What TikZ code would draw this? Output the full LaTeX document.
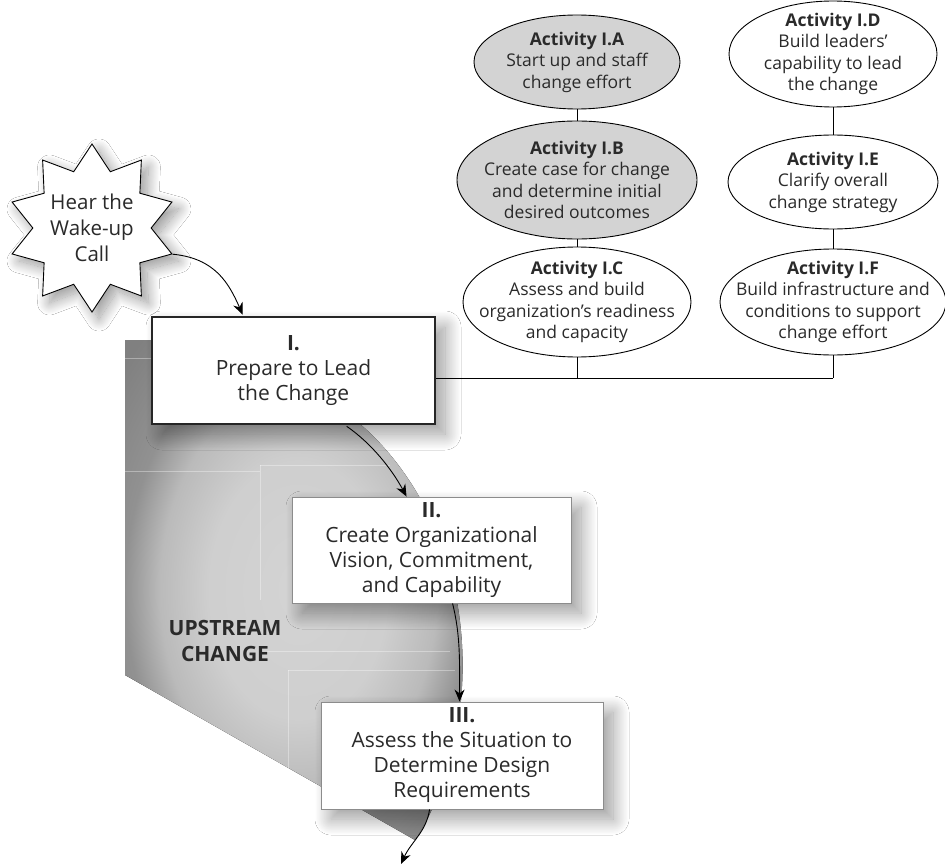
\documentclass[tikz,border=0pt]{standalone}
\usepackage{fontspec}
\setmainfont{Open Sans}
\usetikzlibrary{shapes.geometric,shadows.blur,arrows.meta,calc}

\definecolor{ink}{HTML}{2A2A2A}
\definecolor{actgray}{HTML}{D3D3D3}

% soft grey backdrop for the upstream phases
\pgfdeclareradialshading{upstream}{\pgfpoint{0bp}{0bp}}{%
  color(0bp)=(black!17); color(13bp)=(black!19); color(20bp)=(black!27);
  color(25bp)=(black!43); color(34bp)=(black!50); color(50bp)=(black!50)}

\begin{document}
\begin{tikzpicture}[x=1pt,y=-1pt,
  act/.style={ellipse, draw=black, line width=0.9pt, inner sep=-30pt, align=center,
    text=ink, font=\fontsize{17.5}{21.5}\selectfont},
  actgrey/.style={act, fill=actgray},
  actwhite/.style={act, fill=white},
  phase/.style={rectangle, fill=white, align=center, inner sep=0pt, text=ink,
    font=\fontsize{21}{25}\selectfont,
    blur shadow={shadow xshift=10pt, shadow yshift=-10pt, shadow blur radius=16pt,
      shadow opacity=40, shadow blur steps=30}},
  flow/.style={-{Stealth[length=12pt,width=10pt]}, line width=0.9pt, black},
  link/.style={line width=0.9pt, black},
  seam/.style={white, opacity=0.35, line width=0.7pt}]

\useasboundingbox (0,0) rectangle (945,864);
\fill[white] (0,0) rectangle (945,864);

% backdrop region
\fill[shading=upstream] (125,340) -- (360,340) -- (360,424)
  .. controls (425,480) and (472,580) .. (461,700)
  .. controls (452,770) and (432,815) .. (415,840)
  -- (125,675) -- cycle;
\draw[seam] (125,358) -- (152,358);
\draw[seam] (125,471) -- (260,471);
\draw[seam] (260,465) -- (390,465);
\draw[seam] (260,465) -- (260,600);
\draw[seam] (262,651) -- (450,651);
\draw[seam] (288,670) -- (455,670);
\draw[seam] (288,670) -- (288,772);

% activities of phase I
\node[actgrey,  minimum width=206, minimum height=94]  (IA) at (577,62)
  {\textbf{Activity I.A}\\Start up and staff\\change effort};
\node[actgrey,  minimum width=240, minimum height=118] (IB) at (577,180)
  {\textbf{Activity I.B}\\Create case for change\\and determine initial\\desired outcomes};
\node[actwhite, minimum width=228, minimum height=110] (IC) at (577,302)
  {\textbf{Activity I.C}\\Assess and build\\organization's readiness\\and capacity};
\node[actwhite, minimum width=208, minimum height=106] (ID) at (833,54)
  {\textbf{Activity I.D}\\Build leaders'\\capability to lead\\the change};
\node[actwhite, minimum width=210, minimum height=94]  (IE) at (833,182)
  {\textbf{Activity I.E}\\Clarify overall\\change strategy};
\node[actwhite, minimum width=226, minimum height=106] (IF) at (833,302)
  {\textbf{Activity I.F}\\Build infrastructure and\\conditions to support\\change effort};

% wake-up call
\node[star, star points=10, star point ratio=1.42, minimum size=168pt, inner sep=-30pt,
  draw=black, line width=0.9pt, fill=white, text=ink, align=center,
  font=\fontsize{20.5}{26}\selectfont,
  blur shadow={shadow xshift=7pt, shadow yshift=-7pt, shadow blur radius=12pt,
    shadow opacity=40, shadow blur steps=24}]
  (wake) at (92,228) {Hear the\\Wake-up\\Call};

% phases
\node[phase, draw=black!85, line width=2.6pt, minimum width=283, minimum height=107]
  (P1) at (293.5,370.5) {\textbf{I.}\\Prepare to Lead\\the Change};
\node[phase, draw=black!45, line width=0.9pt, minimum width=279, minimum height=106]
  (P2) at (431.5,550) {\textbf{II.}\\Create Organizational\\Vision, Commitment,\\and Capability};
\node[phase, draw=black!45, line width=0.9pt, minimum width=282, minimum height=107]
  (P3) at (462,755.5) {\textbf{III.}\\Assess the Situation to\\Determine Design\\Requirements};

\node[text=ink, align=center, font=\bfseries\fontsize{21}{26}\selectfont]
  (up) at (225,641) {UPSTREAM\\CHANGE};

% activity links
\coordinate (bus) at (0,378);
\draw[link] (IA) -- (IB);
\draw[link] (IB) -- (IC);
\draw[link] (ID) -- (IE);
\draw[link] (IE) -- (IF);
\draw[link] (IC.south) -- (IC.south |- bus);
\draw[link] (IF.south) -- (IF.south |- bus);
\draw[link] (P1.east |- bus) -- (IF.south |- bus);

% flow between phases
\coordinate (next) at (401,864);
\draw[flow] (wake.-18) .. controls +(42,4) and +(-14,-32) .. ($(P1.north west)+(92,-1)$);
\draw[flow] ($(P1.south west)+(196,1)$) .. controls +(26,18) and +(-14,-26) .. ($(P2.north west)+(115,0)$);
\draw[flow] ($(P2.south west)+(161,0)$) .. controls +(8,32) and +(0,-40) .. ($(P3.north west)+(139,0)$);
\draw[flow] ($(P3.south west)+(109,0)$) .. controls +(-3,22) and +(10,-22) .. (next);

\end{tikzpicture}
\end{document}
